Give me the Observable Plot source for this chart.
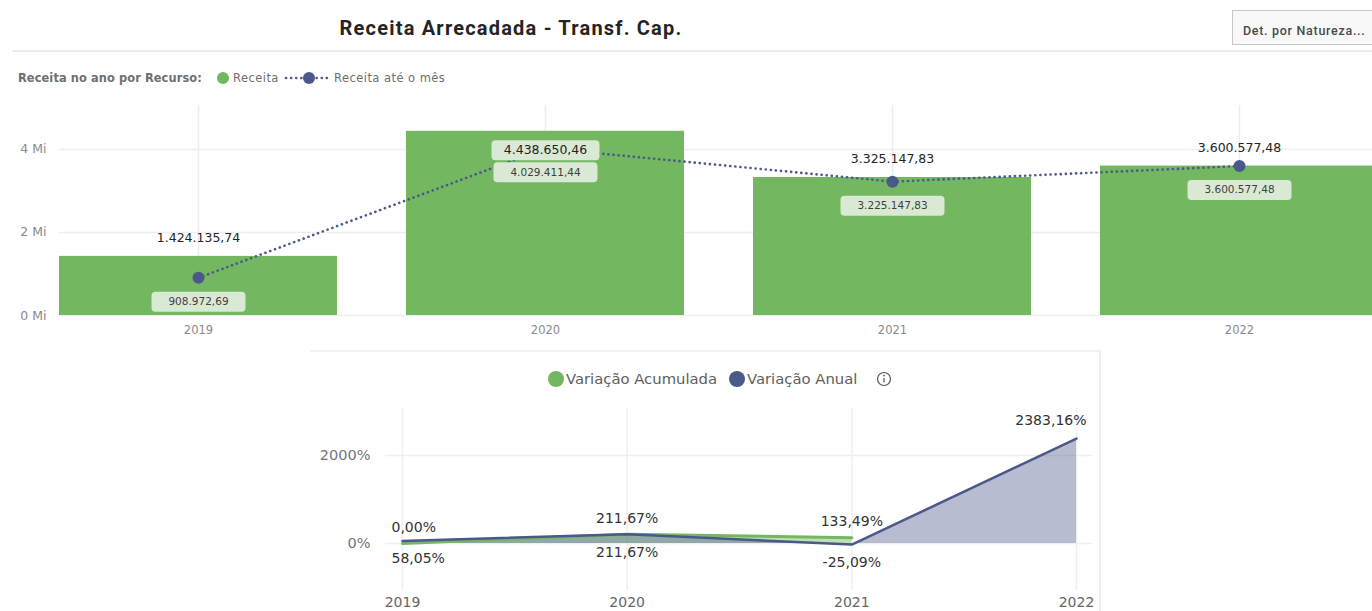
<!DOCTYPE html>
<html>
<head>
<meta charset="utf-8">
<script src="https://cdn.jsdelivr.net/npm/d3@7"></script>
<script src="https://cdn.jsdelivr.net/npm/@observablehq/plot@0.6"></script>
<style>
  html, body { margin: 0; padding: 0; background: #fff; }
  body { width: 1372px; height: 611px; overflow: hidden; position: relative; font-family: "DejaVu Sans", sans-serif; }
  .abs { position: absolute; white-space: nowrap; }
  #title { left: 511px; top: 15px; transform: translateX(-50%); font-family: Roboto, sans-serif; font-weight: 700; font-size: 20px; letter-spacing: 1.2px; line-height: 26px; color: #252423; }
  #hrule { left: 12px; top: 50px; width: 1360px; height: 2px; background: #ececec; }
  #btn { left: 1232px; top: 10px; width: 150px; height: 35px; border: 1px solid #c6c6c6; background: #f8f8f8; box-sizing: border-box; }
  #btntxt { left: 1243px; top: 24px; font-family: Roboto, sans-serif; font-weight: 500; font-size: 12.5px; letter-spacing: 0.7px; line-height: 14px; color: #4a4a4a; }
  .leg1 { top: 71px; font-size: 11.5px; letter-spacing: 0.45px; line-height: 14px; color: #6f6f6f; }
  .leg2 { top: 370px; font-size: 14.8px; line-height: 18px; color: #605e5c; }
  .dot { position: absolute; border-radius: 50%; }
  #box2 { left: 310px; top: 350px; width: 790px; height: 2px; background: #f1f1f1; }
  #box2r { left: 1099px; top: 350px; width: 2px; height: 261px; background: #efefef; }
  #chartTop { position: absolute; left: 0; top: 90px; }
  #chartBottom { position: absolute; left: 0; top: 400px; }
</style>
</head>
<body>
<div class="abs" id="title">Receita Arrecadada - Transf. Cap.</div>
<div class="abs" id="hrule"></div>
<div class="abs" id="btn"></div>
<div class="abs" id="btntxt">Det. por Natureza...</div>

<div class="abs leg1" style="left:18px;font-weight:bold;letter-spacing:0.1px;font-size:11.4px;">Receita no ano por Recurso:</div>
<div class="dot" style="left:217px;top:72px;width:12px;height:12px;background:#73B761;"></div>
<div class="abs leg1" style="left:233px;">Receita</div>
<svg class="abs" style="left:284px;top:70px;" width="48" height="16">
  <line x1="2" y1="8" x2="46" y2="8" stroke="#4A588A" stroke-width="2.6" stroke-dasharray="0.1 5" stroke-linecap="round"/>
  <circle cx="25" cy="8" r="6" fill="#4A588A"/>
</svg>
<div class="abs leg1" style="left:334px;">Receita até o mês</div>

<div class="abs" id="box2"></div>
<div class="abs" id="box2r"></div>
<div class="dot" style="left:548px;top:371px;width:16px;height:16px;background:#73B761;"></div>
<div class="abs leg2" style="left:566px;">Variação Acumulada</div>
<div class="dot" style="left:729px;top:371px;width:16px;height:16px;background:#4A588A;"></div>
<div class="abs leg2" style="left:747px;">Variação Anual</div>
<svg class="abs" style="left:875px;top:370px;" width="18" height="18">
  <circle cx="9" cy="9" r="6.5" fill="none" stroke="#555" stroke-width="1.2"/>
  <line x1="9" y1="8" x2="9" y2="12.5" stroke="#555" stroke-width="1.3"/>
  <circle cx="9" cy="5.6" r="0.9" fill="#555"/>
</svg>

<div id="chartTop"></div>
<div id="chartBottom"></div>

<script>
// ---- data ----
const anos = ["2019", "2020", "2021", "2022"];
const receita = [1424135.74, 4438650.46, 3325147.83, 3600577.48];
const receitaAteMes = [908972.69, 4029411.44, 3225147.83, 3600577.48];
const varAcumulada = [0.00, 211.67, 133.49];          // 2019–2021
const varAnual = [58.05, 211.67, -25.09, 2383.16];      // 2019–2022
const yTicksMi = [0, 2000000, 4000000];
const yTicksPct = [0, 2000];

const GREEN = "#73B761", NAVY = "#4A588A";
const br = d3.formatLocale({decimal: ",", thousands: ".", grouping: [3], currency: ["R$", ""], minus: "-"});
const fmtMoney = br.format(",.2f");
const fmtPct = v => br.format(".2f")(v) + "%";

const rows = anos.map((a, i) => ({ano: a, receita: receita[i], ateMes: receitaAteMes[i]}));
rows.forEach(d => { d.lblBar = fmtMoney(d.receita); d.lblMes = fmtMoney(d.ateMes); });
const maxReceita = d3.max(receita);

function roundRect(w, h, r) {
  return {
    draw(ctx) {
      const x0 = -w / 2, y0 = -h / 2, x1 = w / 2, y1 = h / 2;
      ctx.moveTo(x0 + r, y0);
      ctx.lineTo(x1 - r, y0); ctx.arcTo(x1, y0, x1, y0 + r, r);
      ctx.lineTo(x1, y1 - r); ctx.arcTo(x1, y1, x1 - r, y1, r);
      ctx.lineTo(x0 + r, y1); ctx.arcTo(x0, y1, x0, y1 - r, r);
      ctx.lineTo(x0, y0 + r); ctx.arcTo(x0, y0, x0 + r, y0, r);
      ctx.closePath();
    }
  };
}
const boxW = s => 5 * s.length + 44;
const BOX = "#dae9d4";

const inside = rows.filter(d => d.receita === maxReceita);
const outside = rows.filter(d => d.receita !== maxReceita);

const topChart = Plot.plot({
  width: 1372, height: 255,
  marginTop: 15, marginBottom: 30, marginLeft: 59, marginRight: 0,
  style: {fontFamily: "DejaVu Sans", background: "transparent", overflow: "hidden"},
  x: {type: "band", domain: anos, range: [24.5, 1412.5], paddingInner: 0.2, paddingOuter: 0.1, align: 0.5, axis: null},
  y: {domain: [0, 5060000], axis: null},
  marks: [
    Plot.ruleX(anos, {stroke: "#ededed", strokeWidth: 1.5}),
    Plot.ruleY(yTicksMi, {stroke: "#eeeeee", strokeWidth: 1.5}),
    Plot.barY(rows, {x: "ano", y: "receita", fill: GREEN}),
    Plot.line(rows, {x: "ano", y: "ateMes", stroke: NAVY, strokeWidth: 2.6, strokeDasharray: "0.1 5", strokeLinecap: "round"}),
    Plot.dot(rows, {x: "ano", y: "ateMes", r: 6, fill: NAVY}),
    // line value boxes
    ...rows.map(d => Plot.dot([d], {x: "ano", y: "ateMes", symbol: roundRect(boxW(d.lblMes), 20, 4), fill: BOX, dy: 24})),
    Plot.text(rows, {x: "ano", y: "ateMes", text: "lblMes", dy: 24, fontSize: 10.5, fill: "#3f3f3f"}),
    // bar value labels
    Plot.text(outside, {x: "ano", y: "receita", text: "lblBar", dy: -18, fontSize: 12.5, fill: "#252423"}),
    ...inside.map(d => Plot.dot([d], {x: "ano", y: "receita", symbol: roundRect(boxW(d.lblBar) + 4, 20, 4), fill: BOX, dy: 19})),
    Plot.text(inside, {x: "ano", y: "receita", text: "lblBar", dy: 19, fontSize: 12.5, fill: "#252423"}),
    Plot.axisY({ticks: yTicksMi, tickSize: 0, tickPadding: 13, tickFormat: d => d / 1e6 + " Mi", fontSize: 12.5, color: "#8a8a8a", label: null}),
    Plot.axisX({tickSize: 0, tickPadding: 10, fontSize: 11.5, color: "#8a8a8a", label: null})
  ]
});
document.getElementById("chartTop").append(topChart);

// ---- bottom chart ----
const anosNum = anos.map(Number);
const acum = varAcumulada.map((v, i) => ({ano: anosNum[i], v, lbl: fmtPct(v)}));
const anual = varAnual.map((v, i) => ({ano: anosNum[i], v, lbl: fmtPct(v), below: i < varAcumulada.length}));
const firstYear = anosNum[0], lastYear = anosNum[anosNum.length - 1];

const txt = {fontSize: 14, fill: "#333333"};
const bottomChart = Plot.plot({
  width: 1372, height: 211,
  marginTop: 8, marginBottom: 21, marginLeft: 385, marginRight: 280,
  style: {fontFamily: "DejaVu Sans", background: "transparent", overflow: "visible"},
  x: {type: "linear", domain: [firstYear, lastYear], range: [402, 1076], axis: null},
  y: {domain: [-1068, 3068], axis: null},
  marks: [
    Plot.ruleX(anosNum, {stroke: "#efefef", strokeWidth: 1.5}),
    Plot.ruleY(yTicksPct, {stroke: "#efefef", strokeWidth: 1.5}),
    Plot.areaY(acum, {x: "ano", y: "v", fill: GREEN, fillOpacity: 0.45}),
    Plot.areaY(anual, {x: "ano", y: "v", fill: NAVY, fillOpacity: 0.4}),
    Plot.line(acum, {x: "ano", y: "v", stroke: GREEN, strokeWidth: 3}),
    Plot.line(anual, {x: "ano", y: "v", stroke: NAVY, strokeWidth: 2.5}),
    // Variação Acumulada labels (above)
    Plot.text(acum, {filter: d => d.ano === firstYear, x: "ano", y: "v", text: "lbl", dy: -16, dx: -11, textAnchor: "start", ...txt}),
    Plot.text(acum, {filter: d => d.ano !== firstYear, x: "ano", y: "v", text: "lbl", dy: -16, ...txt}),
    // Variação Anual labels
    Plot.text(anual, {filter: d => d.below && d.ano === firstYear, x: "ano", y: "v", text: "lbl", dy: 18, dx: -11, textAnchor: "start", ...txt}),
    Plot.text(anual, {filter: d => d.below && d.ano !== firstYear, x: "ano", y: "v", text: "lbl", dy: 18, ...txt}),
    Plot.text(anual, {filter: d => !d.below, x: "ano", y: "v", text: "lbl", dy: -18, dx: 10, textAnchor: "end", ...txt}),
    Plot.axisY({ticks: yTicksPct, tickSize: 0, tickPadding: 15, tickFormat: d => d + "%", fontSize: 14.5, color: "#777777", label: null}),
    Plot.axisX({ticks: anosNum, tickFormat: d => String(d), tickSize: 0, tickPadding: 7, fontSize: 14, color: "#666666", label: null})
  ]
});
document.getElementById("chartBottom").append(bottomChart);
</script>
</body>
</html>
